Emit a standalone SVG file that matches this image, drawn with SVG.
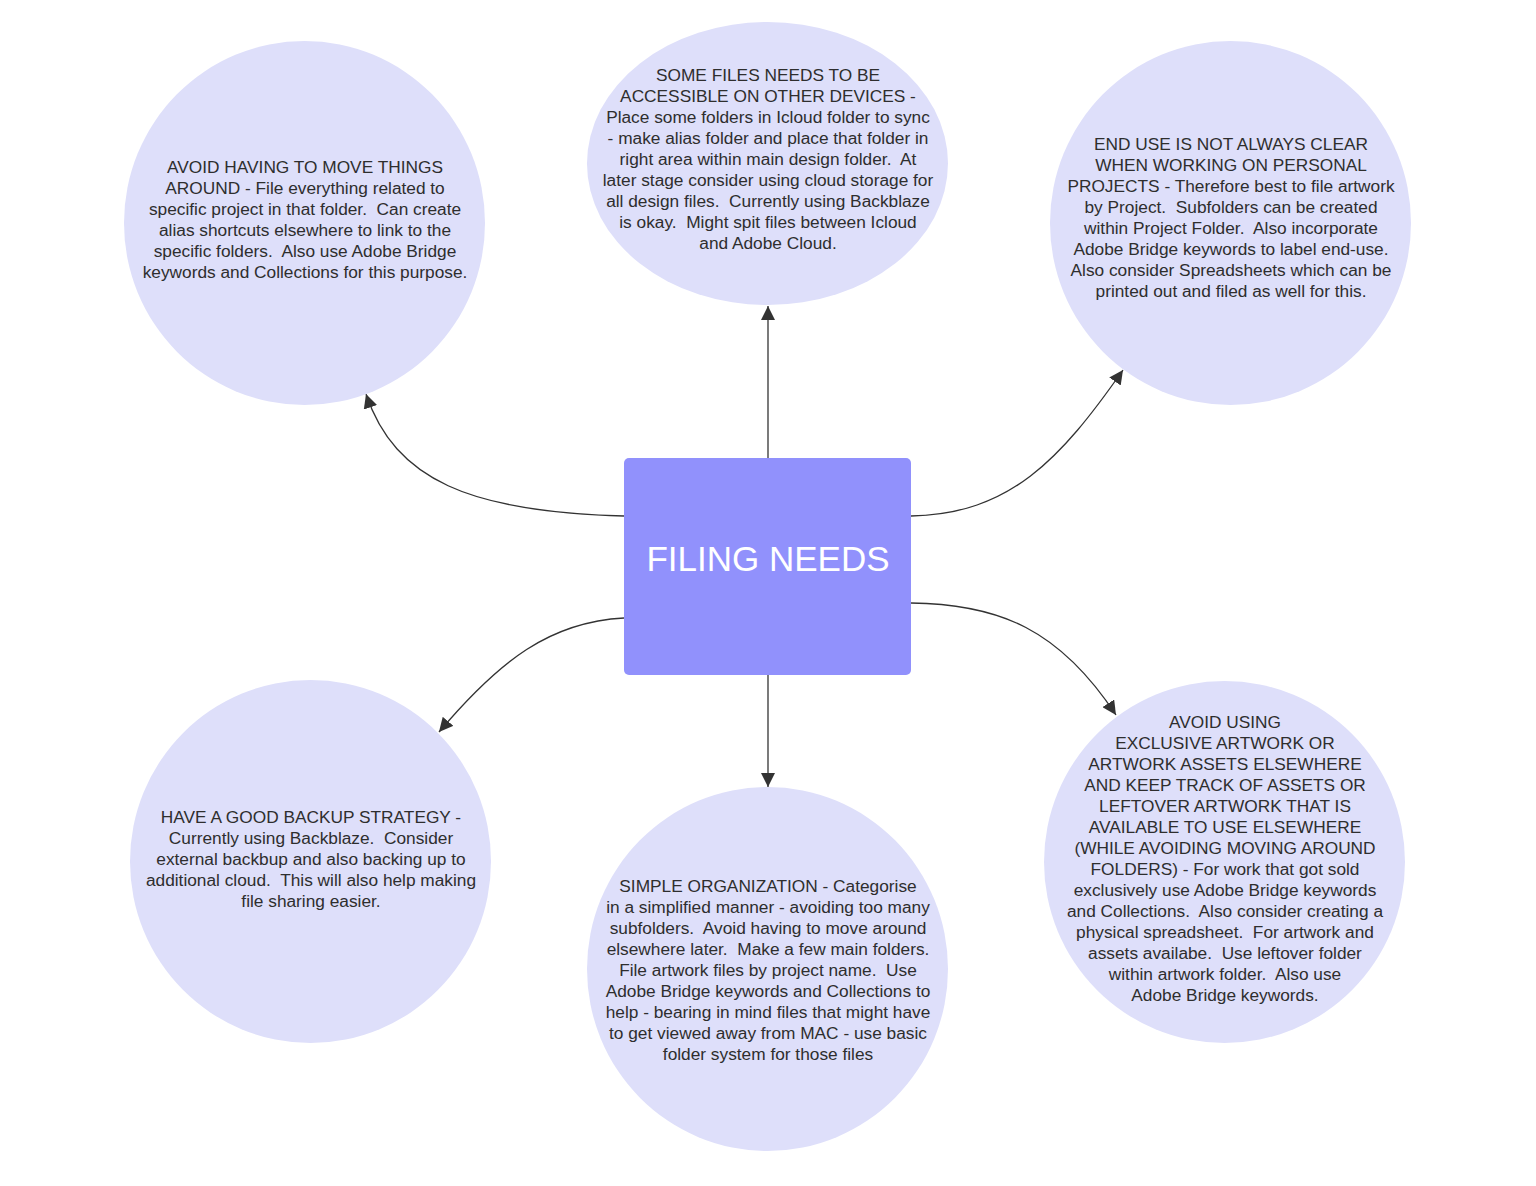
<svg xmlns="http://www.w3.org/2000/svg" width="1536" height="1186" viewBox="0 0 1536 1186">
<defs>
<marker id="ah" viewBox="0 0 10 10" refX="10" refY="5" markerWidth="14" markerHeight="14" markerUnits="userSpaceOnUse" orient="auto">
<path d="M0,0 L10,5 L0,10 Z" fill="#333333"/>
</marker>
<style>
.c{fill:#dedffa;stroke:none}
.t{font-family:"Liberation Sans",Arial,sans-serif;font-size:17.3px;fill:#2e2e2e;text-anchor:middle;white-space:pre}
.e{fill:none;stroke:#333333;stroke-width:1.3;marker-end:url(#ah)}
</style>
</defs>
<rect width="1536" height="1186" fill="#ffffff"/>
<g id="connectors">
<path class="e" d="M768,458 L768,306"/>
<path class="e" d="M768,675 L768,787"/>
<path class="e" d="M624,516 C470,512 395,480 366,394"/>
<path class="e" d="M911,516 C1010,514 1060,460 1123,370"/>
<path class="e" d="M624,618 C550,622 500,660 439,732"/>
<path class="e" d="M911,603 C1000,604 1060,630 1116,715"/>
</g>
<g id="center">
<rect x="624" y="458" width="287" height="217" rx="5" fill="#9191fc"/>
<text x="768" y="571" style="font-family:'Liberation Sans',Arial,sans-serif;font-size:35px;fill:#ffffff;text-anchor:middle">FILING NEEDS</text>
</g>
<g id="n-top-left">
<ellipse class="c" cx="304.5" cy="223" rx="180.5" ry="182"/>
<text class="t" x="305" y="173">AVOID HAVING TO MOVE THINGS</text>
<text class="t" x="305" y="194">AROUND - File everything related to</text>
<text class="t" x="305" y="215">specific project in that folder.  Can create</text>
<text class="t" x="305" y="236">alias shortcuts elsewhere to link to the</text>
<text class="t" x="305" y="257">specific folders.  Also use Adobe Bridge</text>
<text class="t" x="305" y="278">keywords and Collections for this purpose.</text>
</g>
<g id="n-top-center">
<ellipse class="c" cx="767.5" cy="163.5" rx="180.5" ry="141.5"/>
<text class="t" x="768" y="81">SOME FILES NEEDS TO BE</text>
<text class="t" x="768" y="102">ACCESSIBLE ON OTHER DEVICES -</text>
<text class="t" x="768" y="123">Place some folders in Icloud folder to sync</text>
<text class="t" x="768" y="144">- make alias folder and place that folder in</text>
<text class="t" x="768" y="165">right area within main design folder.  At</text>
<text class="t" x="768" y="186">later stage consider using cloud storage for</text>
<text class="t" x="768" y="207">all design files.  Currently using Backblaze</text>
<text class="t" x="768" y="228">is okay.  Might spit files between Icloud</text>
<text class="t" x="768" y="249">and Adobe Cloud.</text>
</g>
<g id="n-top-right">
<ellipse class="c" cx="1230.5" cy="223" rx="180.5" ry="182"/>
<text class="t" x="1231" y="150">END USE IS NOT ALWAYS CLEAR</text>
<text class="t" x="1231" y="171">WHEN WORKING ON PERSONAL</text>
<text class="t" x="1231" y="192">PROJECTS - Therefore best to file artwork</text>
<text class="t" x="1231" y="213">by Project.  Subfolders can be created</text>
<text class="t" x="1231" y="234">within Project Folder.  Also incorporate</text>
<text class="t" x="1231" y="255">Adobe Bridge keywords to label end-use.</text>
<text class="t" x="1231" y="276">Also consider Spreadsheets which can be</text>
<text class="t" x="1231" y="297">printed out and filed as well for this.</text>
</g>
<g id="n-bottom-left">
<ellipse class="c" cx="310.5" cy="861.5" rx="180.5" ry="181.5"/>
<text class="t" x="311" y="823">HAVE A GOOD BACKUP STRATEGY -</text>
<text class="t" x="311" y="844">Currently using Backblaze.  Consider</text>
<text class="t" x="311" y="865">external backbup and also backing up to</text>
<text class="t" x="311" y="886">additional cloud.  This will also help making</text>
<text class="t" x="311" y="907">file sharing easier.</text>
</g>
<g id="n-bottom-center">
<ellipse class="c" cx="767.5" cy="969" rx="180.5" ry="182"/>
<text class="t" x="768" y="892">SIMPLE ORGANIZATION - Categorise</text>
<text class="t" x="768" y="913">in a simplified manner - avoiding too many</text>
<text class="t" x="768" y="934">subfolders.  Avoid having to move around</text>
<text class="t" x="768" y="955">elsewhere later.  Make a few main folders.</text>
<text class="t" x="768" y="976">File artwork files by project name.  Use</text>
<text class="t" x="768" y="997">Adobe Bridge keywords and Collections to</text>
<text class="t" x="768" y="1018">help - bearing in mind files that might have</text>
<text class="t" x="768" y="1039">to get viewed away from MAC - use basic</text>
<text class="t" x="768" y="1060">folder system for those files</text>
</g>
<g id="n-bottom-right">
<ellipse class="c" cx="1224.5" cy="862" rx="180.5" ry="181"/>
<text class="t" x="1225" y="728">AVOID USING</text>
<text class="t" x="1225" y="749">EXCLUSIVE ARTWORK OR</text>
<text class="t" x="1225" y="770">ARTWORK ASSETS ELSEWHERE</text>
<text class="t" x="1225" y="791">AND KEEP TRACK OF ASSETS OR</text>
<text class="t" x="1225" y="812">LEFTOVER ARTWORK THAT IS</text>
<text class="t" x="1225" y="833">AVAILABLE TO USE ELSEWHERE</text>
<text class="t" x="1225" y="854">(WHILE AVOIDING MOVING AROUND</text>
<text class="t" x="1225" y="875">FOLDERS) - For work that got sold</text>
<text class="t" x="1225" y="896">exclusively use Adobe Bridge keywords</text>
<text class="t" x="1225" y="917">and Collections.  Also consider creating a</text>
<text class="t" x="1225" y="938">physical spreadsheet.  For artwork and</text>
<text class="t" x="1225" y="959">assets availabe.  Use leftover folder</text>
<text class="t" x="1225" y="980">within artwork folder.  Also use</text>
<text class="t" x="1225" y="1001">Adobe Bridge keywords.</text>
</g>
</svg>
